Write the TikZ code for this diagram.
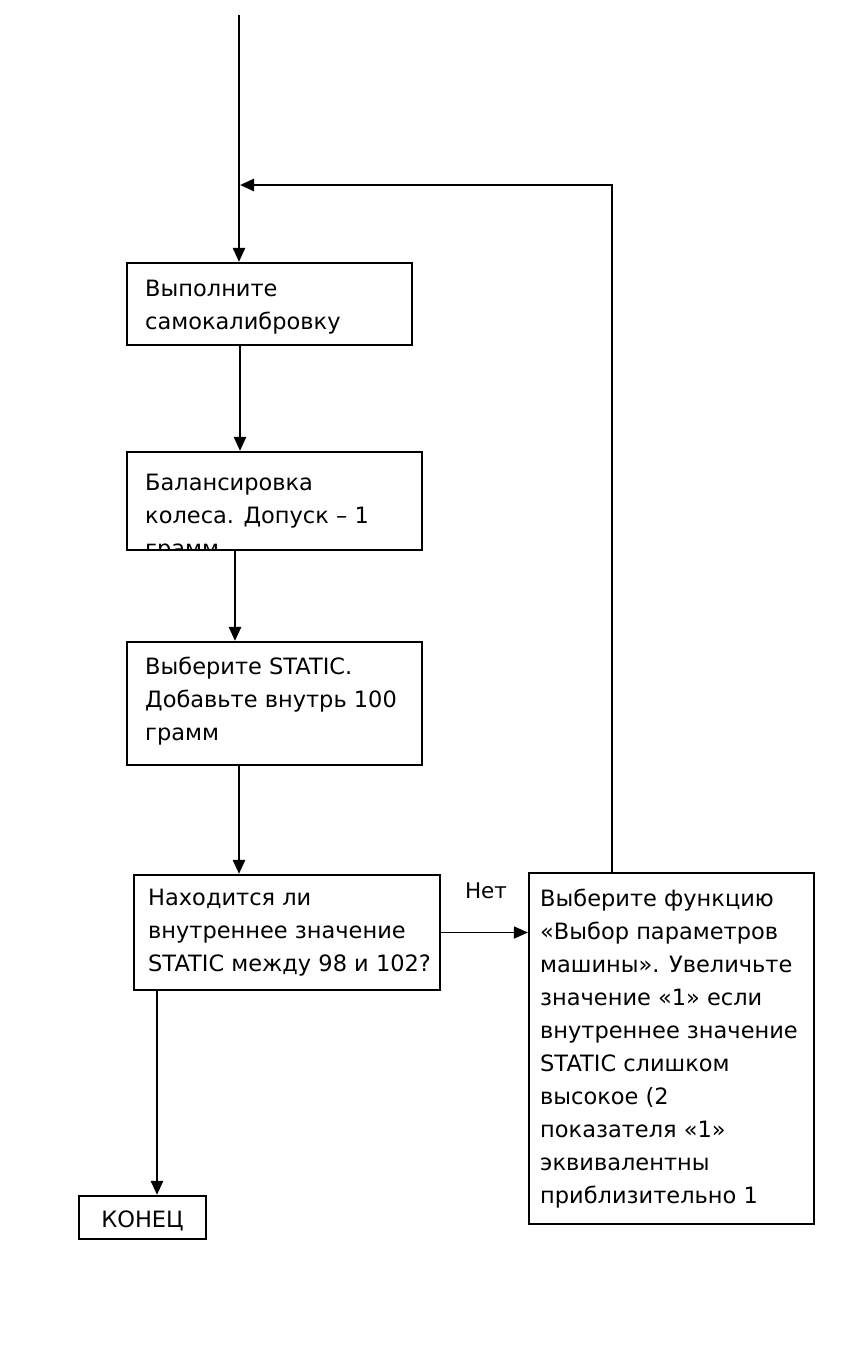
\documentclass[tikz,border=0pt]{standalone}
\usepackage{fontspec}
\setmainfont{DejaVu Sans}
\usetikzlibrary{arrows.meta,calc}
\tikzset{
  box/.style={draw, line width=2.2pt, rectangle, inner sep=0pt},
  txt/.style={anchor=base west, inner sep=0pt, align=left, font=\fontsize{22.5}{33}\selectfont},
  arr/.style={line width=2.6pt, -{Triangle[length=14pt,width=12pt]}},
}
\begin{document}
\begin{tikzpicture}[x=1pt,y=-1pt]
\useasboundingbox (0,0) rectangle (849,1354);
% boxes
\node[box, minimum width=285pt, minimum height=82pt] (b1) at (269.5,304) {};
\node[box, minimum width=295pt, minimum height=98pt] (b2) at (274.5,501) {};
\node[box, minimum width=295pt, minimum height=123pt] (b3) at (274.5,703.5) {};
\node[box, minimum width=306pt, minimum height=115pt] (b4) at (287,932.5) {};
\node[box, minimum width=285pt, minimum height=351pt] (b5) at (671.5,1048.5) {};
\node[box, minimum width=127pt, minimum height=43pt] (e) at (142.5,1217.5) {};
% texts (anchor = baseline of last line)
\node[txt] (t1) at (145,329) {Выполните\\самокалибровку};
\begin{scope}
\clip (127,452) rectangle (422,549);
\node[txt] (t2) at (145,556) {Балансировка\\колеса. Допуск – 1\\грамм};
\end{scope}
\node[txt] (t3) at (145,740) {Выберите STATIC.\\Добавьте внутрь 100\\грамм};
\node[txt] (t4) at (148,971) {Находится ли\\внутреннее значение\\STATIC между 98 и 102?};
\node[txt] (t5) at (540,1203) {Выберите функцию\\«Выбор параметров\\машины». Увеличьте\\значение «1» если\\внутреннее значение\\STATIC слишком\\высокое (2\\показателя «1»\\эквивалентны\\приблизительно 1};
\node[txt, anchor=base] (te) at (142.5,1227) {КОНЕЦ};
\node[anchor=base, inner sep=0pt, font=\fontsize{21.5}{24}\selectfont] (no) at (486,898) {Нет};
% connectors
\coordinate (top) at (239,15);
\coordinate (join) at (240,185);
\draw[arr] (top) -- (top |- b1.north);
\draw[arr] (b5.north -| 612,0) |- (join);
\draw[arr] (b1.south -| 240,0) -- (b2.north -| 240,0);
\draw[arr] (b2.south -| 235,0) -- (b3.north -| 235,0);
\draw[arr] (b3.south -| 239,0) -- (b4.north -| 239,0);
\draw[arr, line width=1.8pt] (b4.east) -- (b4.east -| b5.west);
\draw[arr] (b4.south -| 157,0) -- (e.north -| 157,0);
\end{tikzpicture}
\end{document}
